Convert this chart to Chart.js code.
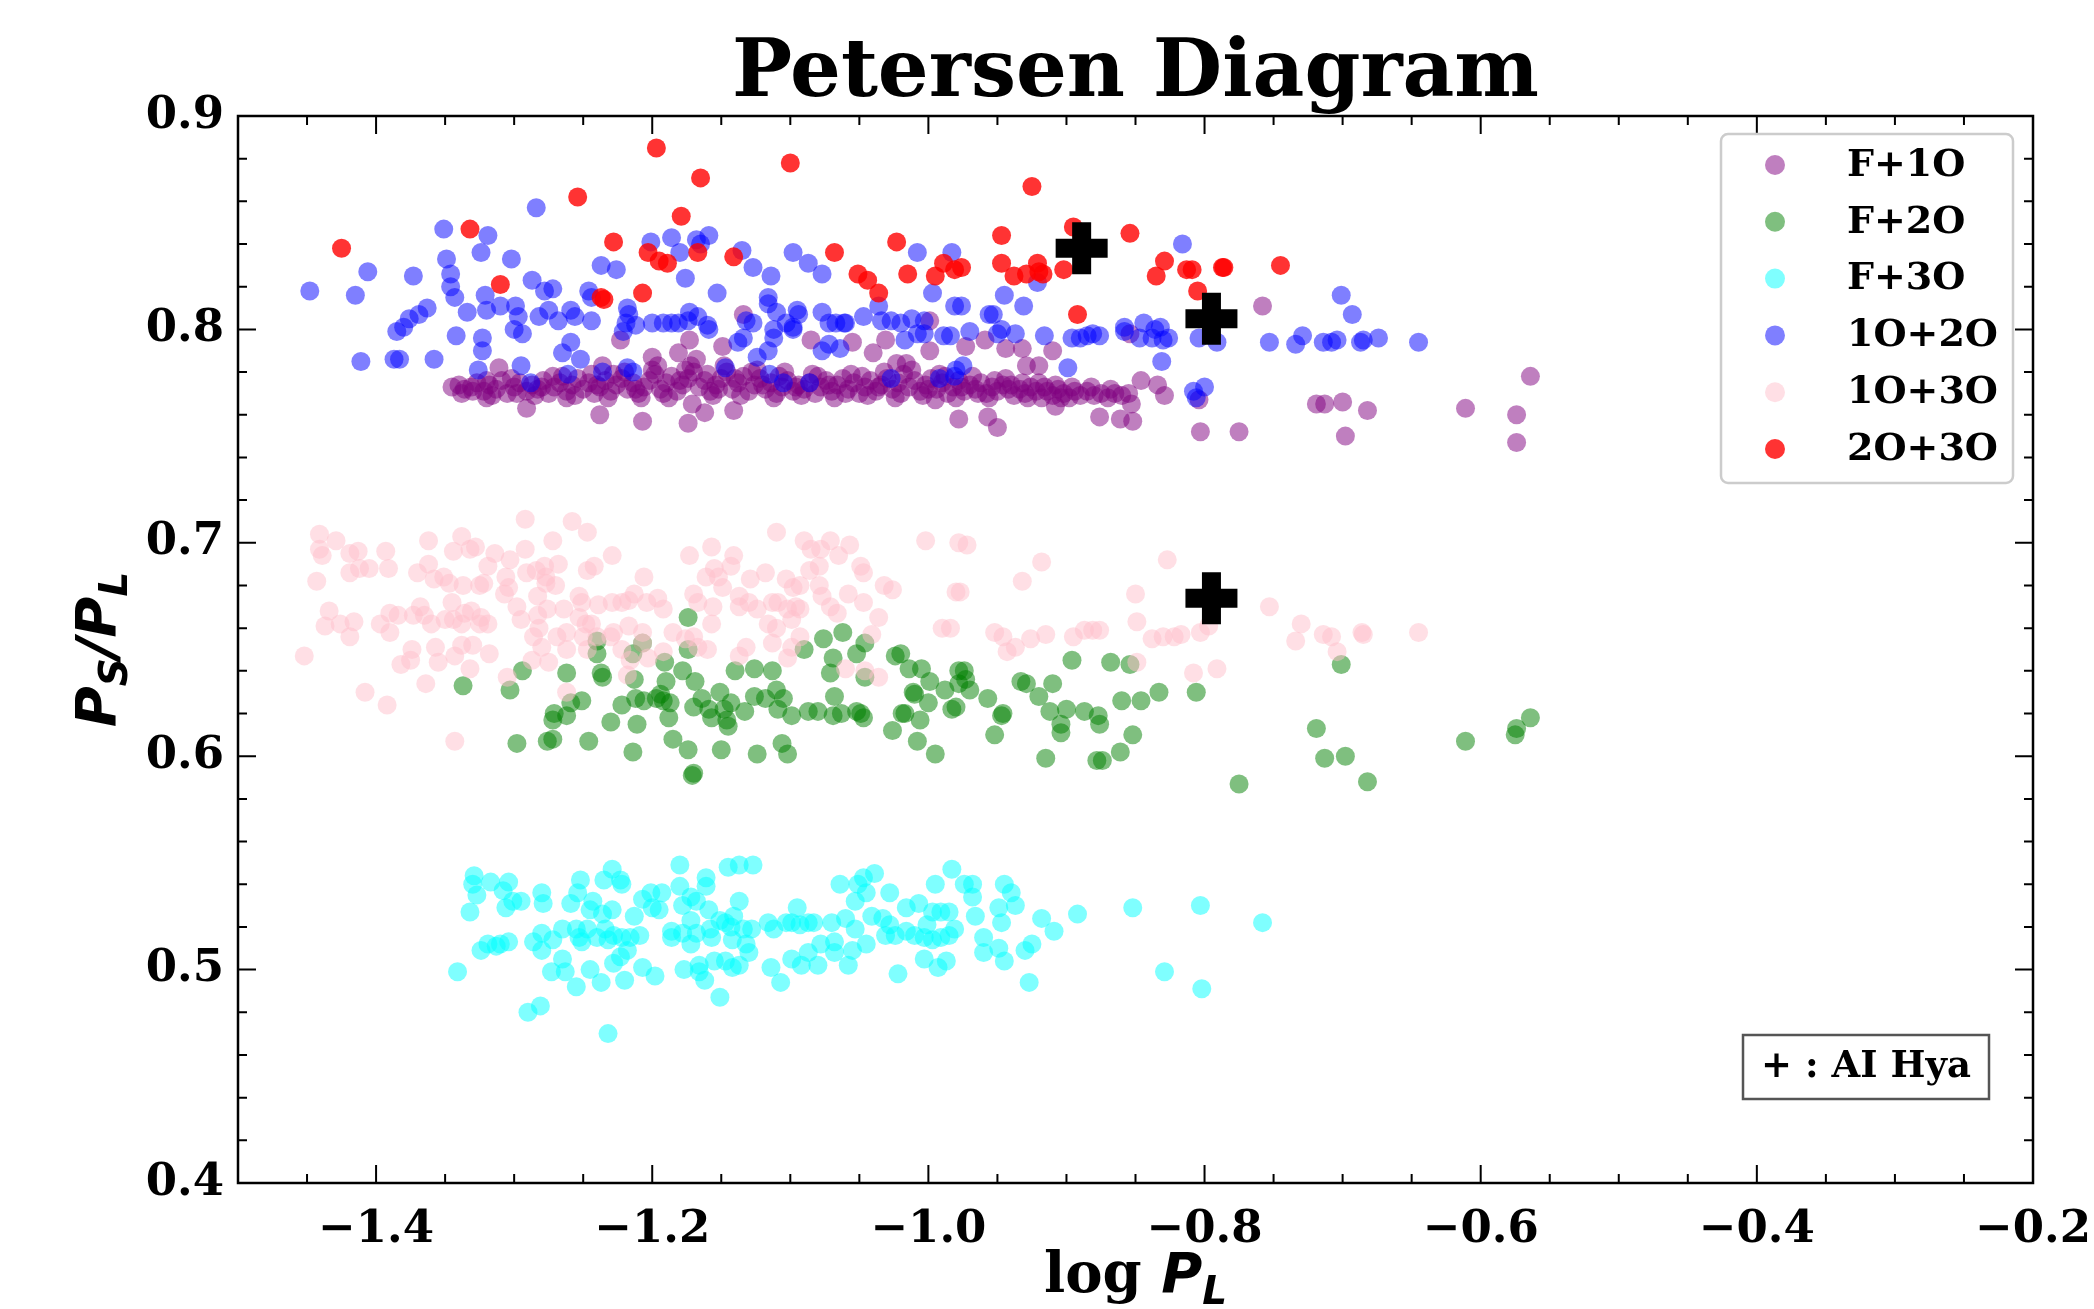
<!DOCTYPE html>
<html><head><meta charset="utf-8">
<script src="https://cdn.jsdelivr.net/npm/chart.js@4.4.0/dist/chart.umd.min.js"></script>
<style>html,body{margin:0;padding:0;background:#fff}canvas{display:block}</style>
</head><body>
<canvas id="c" width="2094" height="1309" style="width:2094px;height:1309px"></canvas>
<script>
// ---------------- DATA ----------------
const seriesNames = ['F+1O','F+2O','F+3O','1O+2O','1O+3O','2O+3O'];
const xTickValues = [-1.4,-1.2,-1.0,-0.8,-0.6,-0.4,-0.2];
const yTickValues = [0.4,0.5,0.6,0.7,0.8,0.9];

const f1o = [
[-1.345,.773],[-1.340,.774],[-1.336,.772],[-1.331,.773],[-1.327,.775],[-1.322,.771],[-1.318,.774],[-1.313,.772],[-1.309,.776],[-1.305,.770],
[-1.300,.773],[-1.296,.775],[-1.291,.771],[-1.287,.774],[-1.283,.772],[-1.279,.776],[-1.275,.770],[-1.271,.773],[-1.267,.775],[-1.262,.771],
[-1.258,.774],[-1.254,.777],[-1.250,.772],[-1.246,.775],[-1.242,.770],[-1.238,.773],[-1.234,.776],[-1.230,.771],[-1.226,.774],[-1.222,.777],
[-1.218,.772],[-1.214,.775],[-1.210,.770],[-1.206,.773],[-1.202,.776],[-1.198,.779],[-1.194,.772],[-1.190,.775],[-1.186,.778],[-1.182,.771],
[-1.178,.774],[-1.174,.777],[-1.170,.780],[-1.166,.773],[-1.162,.776],[-1.158,.771],[-1.154,.774],[-1.150,.777],[-1.146,.780],[-1.142,.772],
[-1.138,.775],[-1.134,.778],[-1.130,.771],[-1.126,.774],[-1.122,.777],[-1.118,.772],[-1.114,.775],[-1.110,.770],[-1.106,.773],[-1.102,.776],
[-1.098,.771],[-1.094,.774],[-1.090,.772],[-1.086,.775],[-1.082,.770],[-1.078,.773],[-1.074,.776],[-1.070,.771],[-1.066,.774],[-1.062,.777],
[-1.058,.772],[-1.054,.775],[-1.050,.770],[-1.046,.773],[-1.042,.776],[-1.038,.771],[-1.034,.774],[-1.030,.777],[-1.026,.772],[-1.022,.775],
[-1.018,.779],[-1.014,.773],[-1.010,.776],[-1.006,.771],[-1.002,.774],[-0.998,.777],[-0.994,.772],[-0.990,.775],[-0.986,.770],[-0.982,.773],
[-0.978,.776],[-0.974,.771],[-0.970,.774],[-0.966,.772],[-0.962,.775],[-0.958,.770],[-0.954,.773],[-0.950,.771],[-0.946,.774],[-0.942,.772],
[-0.938,.769],[-0.934,.772],[-0.930,.770],[-0.926,.773],[-0.922,.771],[-0.918,.768],[-0.914,.771],[-0.910,.769],[-0.906,.772],[-0.902,.770],
[-0.898,.768],[-0.894,.771],[-0.890,.769],[-0.885,.771],[-0.880,.769],[-0.875,.770],[-0.870,.768],[-0.865,.770],[-0.860,.769],[-0.855,.770],
[-1.330,.771],[-1.320,.776],[-1.298,.770],[-1.280,.773],[-1.265,.778],[-1.240,.774],[-1.228,.779],[-1.212,.772],[-1.200,.781],[-1.192,.770],
[-1.180,.776],[-1.172,.783],[-1.160,.779],[-1.152,.772],[-1.140,.777],[-1.128,.780],[-1.120,.774],[-1.108,.778],[-1.096,.773],[-1.084,.779],
[-1.072,.774],[-1.060,.770],[-1.048,.778],[-1.036,.773],[-1.020,.770],[-1.012,.781],[-1.000,.772],[-0.988,.778],[-0.976,.773],[-0.964,.770],
[-0.952,.776],[-0.940,.774],[-0.928,.768],[-0.916,.773],[-0.904,.768],
[-1.338,.770],[-1.316,.769],[-1.302,.777],[-1.285,.769],[-1.272,.778],[-1.256,.769],[-1.244,.779],[-1.232,.768],[-1.220,.780],[-1.208,.768],
[-1.196,.783],[-1.188,.768],[-1.176,.781],[-1.168,.786],[-1.156,.769],[-1.148,.783],[-1.136,.769],[-1.124,.781],[-1.112,.768],[-1.104,.780],
[-1.092,.769],[-1.080,.778],[-1.068,.768],[-1.056,.779],[-1.044,.769],[-1.032,.780],[-1.024,.768],[-1.016,.784],[-1.004,.769],[-0.992,.779],
[-0.980,.768],[-0.968,.778],[-0.956,.768],[-0.944,.777],[-0.932,.775],[-0.920,.775],[-0.908,.774],[-0.896,.773],[-0.882,.773],[-0.868,.772],
[-1.311,.782],[-1.236,.783],[-1.200,.787],[-1.181,.789],[-1.173,.795],[-1.149,.792],[-1.134,.807],[-1.223,.795],[-1.085,.795],[-1.055,.794],
[-1.040,.789],[-1.031,.795],[-1.023,.784],[-0.999,.804],[-0.999,.790],[-0.973,.792],[-0.959,.795],[-0.944,.791],[-0.932,.791],[-0.929,.783],
[-0.920,.783],[-0.910,.790],[-0.854,.798],
[-1.320,.768],[-1.291,.763],[-1.262,.768],[-1.238,.760],[-1.207,.757],[-1.174,.756],[-1.171,.765],[-1.162,.761],[-1.141,.762],[-0.995,.767],
[-0.978,.758],[-0.957,.759],[-0.950,.754],[-0.908,.764],[-0.876,.759],[-0.861,.758],[-0.852,.757],[-0.853,.765],[-0.846,.776],[-0.834,.774],
[-0.829,.769],[-0.804,.767],[-0.803,.752],[-0.775,.752],[-0.758,.811],[-0.719,.765],[-0.713,.765],[-0.700,.766],[-0.682,.762],[-0.698,.750],
[-0.611,.763],[-0.574,.760],[-0.574,.747],[-0.564,.778]
];

const f2o = [
[-1.337,.633],[-1.303,.631],[-1.294,.640],[-1.298,.606],[-1.276,.607],[-1.272,.608],[-1.271,.620],[-1.272,.617],[-1.262,.619],[-1.251,.626],
[-1.259,.625],[-1.262,.639],[-1.246,.607],[-1.240,.648],[-1.240,.654],[-1.237,.639],[-1.236,.637],[-1.230,.616],[-1.222,.624],[-1.214,.602],
[-1.214,.648],[-1.207,.653],[-1.213,.636],[-1.211,.615],[-1.212,.627],[-1.206,.626],[-1.197,.627],[-1.192,.626],[-1.187,.625],[-1.194,.629],
[-1.191,.644],[-1.190,.635],[-1.188,.618],[-1.185,.608],[-1.174,.665],[-1.174,.650],[-1.178,.640],[-1.169,.635],[-1.171,.591],[-1.170,.592],
[-1.174,.603],[-1.170,.623],[-1.164,.627],[-1.159,.622],[-1.157,.618],[-1.151,.630],[-1.148,.622],[-1.145,.614],[-1.143,.625],[-1.146,.617],
[-1.150,.603],[-1.140,.640],[-1.133,.621],[-1.126,.641],[-1.126,.628],[-1.124,.601],[-1.118,.627],[-1.113,.640],[-1.110,.631],[-1.109,.622],
[-1.105,.627],[-1.099,.619],[-1.106,.606],[-1.102,.601],[-1.090,.650],[-1.087,.621],[-1.080,.621],[-1.076,.655],[-1.071,.639],[-1.069,.646],
[-1.068,.628],[-1.069,.619],[-1.063,.620],[-1.062,.658],[-1.052,.621],[-1.049,.620],[-1.047,.618],[-1.052,.648],[-1.046,.653],[-1.046,.637],
[-1.026,.612],[-1.024,.647],[-1.020,.648],[-1.014,.641],[-1.005,.641],[-1.019,.620],[-1.017,.620],[-1.011,.630],[-1.010,.629],[-1.000,.625],
[-1.006,.617],[-1.008,.607],[-0.995,.601],[-0.999,.635],[-0.988,.631],[-0.983,.622],[-0.978,.640],[-0.978,.634],
[-0.974,.640],[-0.973,.636],[-0.970,.631],[-0.980,.623],[-0.957,.627],[-0.947,.619],[-0.946,.620],[-0.952,.610],[-0.933,.635],[-0.929,.634],
[-0.920,.628],[-0.910,.634],[-0.896,.645],[-0.912,.621],[-0.900,.622],[-0.887,.621],[-0.877,.619],[-0.876,.615],[-0.904,.615],[-0.904,.611],
[-0.915,.599],[-0.878,.598],[-0.874,.598],[-0.861,.602],[-0.852,.610],[-0.868,.644],[-0.854,.643],[-0.860,.626],[-0.846,.626],[-0.833,.630],
[-0.806,.630],[-0.775,.587],[-0.719,.613],[-0.713,.599],[-0.698,.600],[-0.682,.588],[-0.701,.643],[-0.611,.607],[-0.575,.610],[-0.574,.613],
[-0.564,.618]
];

const f3o = [
[-1.329,.544],[-1.330,.540],[-1.327,.535],[-1.317,.541],[-1.304,.541],[-1.308,.537],[-1.301,.532],[-1.295,.532],[-1.306,.529],[-1.332,.527],
[-1.341,.499],[-1.324,.509],[-1.319,.512],[-1.313,.511],[-1.310,.512],[-1.304,.513],[-1.290,.480],[-1.281,.483],
[-1.286,.513],[-1.280,.517],[-1.280,.509],[-1.272,.514],[-1.265,.519],[-1.255,.519],[-1.253,.515],[-1.251,.513],
[-1.280,.536],[-1.279,.531],[-1.259,.531],[-1.254,.536],[-1.243,.532],[-1.245,.528],[-1.252,.542],
[-1.265,.505],[-1.273,.499],[-1.263,.499],[-1.255,.492],[-1.245,.500],[-1.237,.494],[-1.232,.470],
[-1.229,.547],[-1.235,.542],[-1.223,.542],[-1.222,.540],[-1.229,.528],[-1.236,.526],
[-1.247,.519],[-1.240,.515],[-1.234,.519],[-1.228,.516],[-1.222,.515],[-1.216,.515],[-1.209,.516],[-1.232,.514],[-1.218,.509],[-1.220,.495],
[-1.228,.503],[-1.223,.506],[-1.213,.525],[-1.207,.533],[-1.201,.536],[-1.200,.529],[-1.193,.536],[-1.195,.528],[-1.207,.501],[-1.198,.497],
[-1.180,.549],[-1.180,.539],[-1.178,.530],[-1.172,.534],[-1.168,.532],[-1.161,.543],[-1.161,.539],[-1.159,.528],
[-1.186,.518],[-1.186,.515],[-1.178,.517],[-1.172,.523],[-1.172,.512],[-1.168,.517],[-1.158,.519],[-1.157,.515],[-1.177,.500],[-1.166,.502],
[-1.166,.499],[-1.162,.495],[-1.155,.504],[-1.151,.487],
[-1.151,.523],[-1.147,.522],[-1.143,.520],[-1.141,.525],[-1.134,.519],[-1.128,.519],[-1.137,.532],[-1.142,.514],[-1.132,.512],[-1.130,.508],
[-1.147,.504],[-1.142,.501],[-1.137,.502],[-1.145,.548],[-1.137,.549],[-1.127,.549],[-1.114,.501],[-1.107,.494],
[-1.116,.522],[-1.112,.519],[-1.103,.522],[-1.099,.522],[-1.093,.521],[-1.087,.522],[-1.083,.522],[-1.095,.529],
[-1.078,.512],[-1.068,.513],[-1.070,.522],[-1.060,.524],[-1.053,.519],[-1.053,.532],[-1.051,.540],[-1.045,.536],[-1.039,.545],[-1.064,.540],
[-1.047,.543],[-1.099,.505],[-1.092,.502],[-1.080,.502],[-1.087,.508],[-1.068,.508],[-1.055,.509],[-1.058,.502],[-1.045,.512],
[-1.041,.525],[-1.033,.524],[-1.028,.521],[-1.031,.516],[-1.024,.516],[-1.016,.518],[-1.016,.529],[-1.007,.531],[-1.001,.521],[-0.997,.527],
[-0.991,.527],[-0.985,.527],[-1.028,.536],[-0.995,.540],[-0.983,.547],[-0.974,.540],[-0.968,.540],[-0.968,.534],
[-1.022,.498],[-1.003,.505],[-0.993,.501],[-0.987,.504],[-1.010,.516],[-1.003,.515],[-0.997,.514],[-0.991,.515],[-0.985,.516],[-0.981,.519],
[-0.966,.525],[-0.960,.515],[-0.960,.508],[-0.947,.522],[-0.949,.529],[-0.945,.540],[-0.940,.536],[-0.937,.530],[-0.949,.510],[-0.945,.504],
[-0.930,.509],[-0.925,.512],[-0.927,.494],[-0.918,.524],[-0.909,.518],[-0.892,.526],[-0.852,.529],[-0.829,.499],[-0.803,.530],[-0.802,.491],
[-0.758,.522]
];

const o1o2 = [
[-1.448,.818],[-1.415,.816],[-1.406,.827],[-1.373,.825],[-1.351,.847],[-1.324,.836],[-1.319,.844],[-1.284,.857],[-1.349,.833],[-1.346,.826],
[-1.346,.820],[-1.343,.815],[-1.302,.833],[-1.321,.816],[-1.334,.808],[-1.363,.810],[-1.369,.807],[-1.376,.805],[-1.380,.801],[-1.385,.799],
[-1.411,.785],[-1.387,.786],[-1.383,.786],[-1.358,.786],[-1.342,.797],[-1.323,.796],[-1.323,.790],[-1.326,.781],[-1.320,.809],[-1.310,.811],
[-1.299,.811],[-1.297,.806],[-1.300,.800],[-1.294,.798],[-1.295,.783],[-1.288,.775],[-1.287,.823],[-1.278,.818],[-1.272,.819],[-1.282,.806],
[-1.275,.809],[-1.268,.804],[-1.259,.809],[-1.256,.806],[-1.246,.818],[-1.244,.815],[-1.244,.804],[-1.265,.789],[-1.259,.794],[-1.252,.786],
[-1.261,.779],[-1.237,.830],[-1.226,.828],[-1.236,.780],[-1.218,.810],[-1.217,.807],[-1.219,.803],[-1.221,.799],[-1.212,.802],[-1.218,.782],
[-1.214,.780],[-1.201,.841],[-1.186,.843],[-1.180,.836],[-1.176,.824],[-1.168,.842],[-1.159,.844],[-1.165,.840],
[-1.200,.803],[-1.192,.803],[-1.186,.803],[-1.181,.803],[-1.174,.804],[-1.173,.808],[-1.167,.806],[-1.160,.802],[-1.159,.800],
[-1.153,.817],[-1.135,.837],[-1.127,.829],[-1.114,.825],[-1.116,.815],[-1.116,.812],[-1.132,.804],[-1.127,.803],
[-1.138,.794],[-1.134,.796],[-1.124,.787],[-1.116,.790],[-1.112,.796],[-1.112,.800],[-1.147,.782],[-1.115,.779],[-1.105,.775],
[-1.110,.808],[-1.103,.803],[-1.098,.801],[-1.095,.809],[-1.094,.807],[-1.098,.800],[-1.098,.836],[-1.087,.831],[-1.077,.826],
[-1.077,.808],[-1.072,.803],[-1.067,.803],[-1.061,.803],[-1.060,.803],[-1.077,.790],[-1.072,.793],[-1.064,.791],[-1.086,.775],
[-1.047,.806],[-1.036,.811],[-1.034,.804],[-1.027,.804],[-1.020,.803],[-1.012,.805],[-1.003,.804],[-1.017,.795],[-1.008,.798],
[-1.027,.777],[-1.008,.836],[-0.997,.817],[-0.981,.811],[-0.983,.836],[-1.003,.798],[-0.989,.797],[-0.992,.777],[-0.980,.781],
[-0.976,.811],[-0.945,.816],[-0.931,.811],[-0.956,.807],[-0.953,.807],[-0.970,.799],[-0.950,.798],[-0.947,.800],[-0.937,.798],[-0.984,.797],
[-0.921,.822],[-0.916,.797],[-0.975,.783],[-0.981,.778],[-0.899,.782],[-0.896,.796],[-0.890,.796],[-0.885,.797],[-0.881,.798],[-0.876,.797],
[-0.858,.801],[-0.858,.799],[-0.847,.796],[-0.844,.803],[-0.838,.796],[-0.836,.800],[-0.832,.801],[-0.830,.795],[-0.826,.796],
[-0.816,.840],[-0.831,.785],[-0.808,.771],[-0.800,.773],[-0.806,.768],[-0.804,.796],[-0.791,.794],[-0.753,.794],[-0.734,.793],[-0.729,.797],
[-0.714,.794],[-0.708,.794],[-0.704,.795],[-0.687,.794],[-0.685,.795],[-0.674,.796],[-0.645,.794],[-0.701,.816],[-0.693,.807]
];

const o1o3 = [
[-1.441,.704],[-1.441,.697],[-1.439,.694],[-1.429,.701],[-1.443,.682],[-1.419,.695],[-1.413,.696],[-1.419,.686],[-1.412,.688],[-1.405,.688],
[-1.393,.696],[-1.391,.688],[-1.434,.668],[-1.437,.661],[-1.426,.662],[-1.416,.663],[-1.419,.656],[-1.452,.647],[-1.397,.662],[-1.390,.667],
[-1.390,.658],[-1.384,.666],[-1.382,.643],[-1.374,.650],[-1.375,.645],[-1.370,.686],[-1.362,.701],[-1.362,.690],[-1.368,.670],[-1.373,.666],
[-1.365,.666],[-1.360,.662],[-1.358,.683],[-1.351,.684],[-1.347,.681],[-1.344,.696],[-1.338,.703],[-1.332,.697],[-1.328,.698],[-1.345,.672],
[-1.350,.664],[-1.344,.664],[-1.338,.662],[-1.336,.667],[-1.331,.668],[-1.324,.665],[-1.325,.662],[-1.319,.662],[-1.357,.651],[-1.355,.644],
[-1.343,.647],[-1.338,.652],[-1.330,.652],[-1.332,.641],[-1.318,.648],[-1.364,.634],[-1.408,.630],[-1.392,.624],[-1.343,.607],[-1.337,.680],
[-1.325,.680],[-1.322,.681],[-1.319,.689],[-1.314,.695],[-1.303,.692],[-1.306,.684],[-1.304,.679],[-1.307,.676],[-1.298,.670],[-1.295,.664],
[-1.292,.697],[-1.292,.711],[-1.291,.686],[-1.284,.687],[-1.278,.689],[-1.277,.684],[-1.272,.701],[-1.268,.690],[-1.277,.681],[-1.270,.680],
[-1.283,.675],[-1.276,.669],[-1.283,.666],[-1.282,.660],[-1.286,.656],[-1.280,.651],[-1.275,.644],[-1.287,.645],[-1.269,.656],[-1.262,.658],
[-1.262,.650],[-1.258,.710],[-1.247,.705],[-1.247,.687],[-1.242,.689],[-1.229,.694],[-1.253,.675],[-1.251,.672],[-1.264,.669],[-1.253,.665],
[-1.248,.662],[-1.244,.662],[-1.250,.656],[-1.247,.650],[-1.239,.671],[-1.229,.672],[-1.222,.672],[-1.217,.673],[-1.213,.676],[-1.204,.672],
[-1.196,.674],[-1.192,.669],[-1.206,.684],[-1.228,.658],[-1.217,.661],[-1.207,.658],[-1.222,.650],[-1.216,.645],[-1.218,.638],[-1.203,.646],
[-1.192,.649],[-1.185,.658],[-1.173,.694],[-1.170,.676],[-1.167,.672],[-1.157,.698],[-1.161,.684],[-1.155,.688],[-1.152,.684],[-1.143,.689],
[-1.141,.694],[-1.149,.679],[-1.156,.670],[-1.157,.662],[-1.176,.655],[-1.170,.656],[-1.167,.651],[-1.160,.650],[-1.137,.675],[-1.130,.672],
[-1.124,.669],[-1.137,.670],[-1.129,.683],[-1.118,.686],[-1.110,.705],[-1.103,.683],[-1.098,.679],[-1.093,.680],[-1.113,.672],[-1.109,.672],
[-1.116,.662],[-1.110,.660],[-1.113,.653],[-1.102,.669],[-1.096,.670],[-1.093,.669],[-1.099,.664],[-1.090,.701],[-1.085,.697],[-1.078,.697],
[-1.071,.701],[-1.065,.694],[-1.057,.699],[-1.086,.687],[-1.079,.689],[-1.079,.680],[-1.077,.675],[-1.071,.670],[-1.066,.667],[-1.058,.676],
[-1.047,.672],[-1.049,.689],[-1.047,.686],[-1.032,.680],[-1.026,.678],[-1.036,.665],[-1.041,.657],[-1.093,.656],[-1.102,.646],[-1.099,.651],
[-1.132,.651],[-1.137,.647],[-1.060,.641],[-1.046,.640],[-1.036,.637],[-1.002,.701],[-0.990,.660],[-0.980,.677],[-0.978,.700],[-1.262,.630],
[-1.305,.637],[-1.240,.656],[-1.230,.656],[-1.207,.653],
[-0.972,.699],[-0.918,.691],[-0.932,.682],[-0.977,.677],[-0.827,.692],[-0.850,.676],[-0.849,.663],[-0.984,.660],[-0.952,.658],[-0.946,.656],
[-0.937,.651],[-0.943,.649],[-0.926,.655],[-0.915,.657],[-0.895,.656],[-0.887,.659],[-0.881,.659],[-0.876,.659],[-0.838,.655],[-0.830,.656],
[-0.822,.656],[-0.817,.657],[-0.803,.658],[-0.797,.661],[-0.849,.644],[-0.808,.639],[-0.791,.641],[-0.753,.670],[-0.730,.662],[-0.734,.654],
[-0.714,.657],[-0.708,.656],[-0.704,.649],[-0.686,.658],[-0.685,.657],[-0.645,.658]
];

const o2o3 = [
[-1.425,.838],[-1.332,.847],[-1.310,.821],[-1.254,.862],[-1.228,.841],[-1.237,.815],[-1.235,.814],[-1.207,.817],[-1.203,.836],[-1.195,.832],
[-1.189,.831],[-1.197,.885],[-1.179,.853],[-1.165,.871],[-1.167,.836],[-1.141,.834],[-1.100,.878],[-1.068,.836],[-1.051,.826],[-1.044,.823],
[-1.036,.817],[-1.023,.841],[-1.015,.826],[-0.995,.825],[-0.989,.831],[-0.981,.828],[-0.976,.829],[-0.947,.844],[-0.947,.831],[-0.938,.825],
[-0.929,.826],[-0.921,.831],[-0.920,.827],[-0.917,.826],[-0.925,.867],[-0.902,.828],[-0.895,.848],[-0.892,.807],[-0.854,.845],[-0.835,.825],
[-0.829,.832],[-0.813,.828],[-0.809,.828],[-0.805,.818],[-0.787,.829],[-0.786,.829],[-0.745,.830]
];

const aiHya = [[-0.889,.838],[-0.795,.805],[-0.795,.674]];

const seriesData = [f1o, f2o, f3o, o1o2, o1o3, o2o3];
const seriesColors = ['rgba(128,0,128,0.5)','rgba(0,128,0,0.5)','rgba(0,255,255,0.5)','rgba(0,0,255,0.5)','rgba(255,192,203,0.5)','rgba(255,0,0,0.8)'];

// ---------------- CHART ----------------
const SERIF = '"DejaVu Serif", serif';
const SANS = '"DejaVu Sans", sans-serif';

const datasets = seriesData.map((d, i) => ({
  label: seriesNames[i],
  data: d.map(p => ({x: p[0], y: p[1]})),
  backgroundColor: seriesColors[i],
  borderWidth: 0,
  pointRadius: 9.5,
  pointHoverRadius: 9.5,
  order: 10 - i
}));
datasets.push({
  label: 'AI Hya',
  data: aiHya.map(p => ({x: p[0], y: p[1]})),
  pointStyle: 'cross',
  pointRadius: 26,
  pointHoverRadius: 26,
  borderColor: '#000',
  borderWidth: 19,
  backgroundColor: '#000',
  order: 1
});

function drawRuns(ctx, runs, cx, cy) {
  let total = 0;
  runs.forEach(r => { ctx.font = r.font; r.w = ctx.measureText(r.t).width; total += r.w; });
  let x = cx - total / 2;
  runs.forEach(r => { ctx.font = r.font; ctx.fillText(r.t, x, cy + (r.dy || 0)); x += r.w; });
}

const decor = {
  id: 'decor',
  afterDraw(chart) {
    const {ctx, chartArea: a, scales: {x, y}} = chart;
    ctx.save();
    ctx.fillStyle = '#000';
    ctx.strokeStyle = '#000';
    // ticks (inward, all four sides)
    ctx.lineWidth = 2;
    const tickX = (v, len) => {
      const px = x.getPixelForValue(v);
      ctx.beginPath();
      ctx.moveTo(px, a.bottom); ctx.lineTo(px, a.bottom - len);
      ctx.moveTo(px, a.top); ctx.lineTo(px, a.top + len);
      ctx.stroke();
    };
    const tickY = (v, len) => {
      const py = y.getPixelForValue(v);
      ctx.beginPath();
      ctx.moveTo(a.left, py); ctx.lineTo(a.left + len, py);
      ctx.moveTo(a.right, py); ctx.lineTo(a.right - len, py);
      ctx.stroke();
    };
    for (let k = -30; k <= -4; k++) { const v = k * 0.05; if (k % 4 !== 0) tickX(v, 9); }
    xTickValues.forEach(v => tickX(v, 18));
    for (let k = 20; k <= 45; k++) { const v = k * 0.02; if (k % 5 !== 0) tickY(v, 9); }
    yTickValues.forEach(v => tickY(v, 18));
    // frame
    ctx.lineWidth = 2.5;
    ctx.strokeRect(a.left, a.top, a.right - a.left, a.bottom - a.top);

    // title
    ctx.textAlign = 'left';
    ctx.textBaseline = 'alphabetic';
    drawRuns(ctx, [{t: 'Petersen Diagram', font: 'bold 80px ' + SERIF}], (a.left + a.right) / 2, 96);

    // x axis title
    drawRuns(ctx, [
      {t: 'log ', font: 'bold 56px ' + SERIF},
      {t: 'P', font: 'italic bold 56px ' + SANS},
      {t: 'L', font: 'italic bold 39px ' + SANS, dy: 12}
    ], (a.left + a.right) / 2, 1292);

    // y axis title
    ctx.save();
    ctx.translate(115, (a.top + a.bottom) / 2);
    ctx.rotate(-Math.PI / 2);
    drawRuns(ctx, [
      {t: 'P', font: 'italic bold 56px ' + SANS},
      {t: 'S', font: 'italic bold 39px ' + SANS, dy: 12},
      {t: '/', font: 'italic bold 56px ' + SANS},
      {t: 'P', font: 'italic bold 56px ' + SANS},
      {t: 'L', font: 'italic bold 39px ' + SANS, dy: 12}
    ], 0, 0);
    ctx.restore();

    // legend
    const lx = 1721, ly = 134, lw = 292, lh = 349;
    ctx.beginPath();
    ctx.roundRect(lx, ly, lw, lh, 7);
    ctx.fillStyle = 'rgba(255,255,255,0.8)';
    ctx.fill();
    ctx.lineWidth = 2.5;
    ctx.strokeStyle = '#cccccc';
    ctx.stroke();
    ctx.textBaseline = 'middle';
    chart.data.datasets.slice(0, 6).forEach((ds, i) => {
      const cy = 165 + i * 56.8;
      ctx.beginPath();
      ctx.arc(1775, cy, 10, 0, Math.PI * 2);
      ctx.fillStyle = ds.backgroundColor;
      ctx.fill();
      ctx.fillStyle = '#000';
      ctx.font = 'bold 38px ' + SERIF;
      ctx.fillText(ds.label, 1847, cy + 1);
    });

    // AI Hya note box
    ctx.lineWidth = 2.5;
    ctx.strokeStyle = '#555555';
    ctx.fillStyle = '#fff';
    ctx.fillRect(1743, 1035, 246, 64);
    ctx.strokeRect(1743, 1035, 246, 64);
    ctx.fillStyle = '#000';
    ctx.textBaseline = 'middle';
    drawRuns(ctx, [{t: '+ : AI Hya', font: 'bold 37px ' + SERIF}], 1866, 1067);
    ctx.restore();
  }
};

const fmt = v => {
  const s = Number(v).toFixed(1);
  return s.replace('-', '\u2212');
};

new Chart(document.getElementById('c'), {
  type: 'scatter',
  data: {datasets},
  options: {
    responsive: false,
    animation: false,
    devicePixelRatio: 1,
    layout: {padding: {left: 0, top: 116, right: 61, bottom: 0}},
    plugins: {legend: {display: false}, title: {display: false}, tooltip: {enabled: false}},
    events: [],
    scales: {
      x: {
        type: 'linear', min: -1.5, max: -0.2,
        grid: {display: false, drawTicks: false},
        border: {display: false},
        afterBuildTicks: s => { s.ticks = xTickValues.map(v => ({value: v})); },
        afterFit: s => { s.height = 126; s.paddingLeft = 0; s.paddingRight = 0; },
        ticks: {color: '#000', padding: 20, maxRotation: 0, autoSkip: false,
          font: {family: SERIF, weight: 'bold', size: 45}, callback: fmt}
      },
      y: {
        type: 'linear', min: 0.4, max: 0.9,
        grid: {display: false, drawTicks: false},
        border: {display: false},
        afterBuildTicks: s => { s.ticks = yTickValues.map(v => ({value: v})); },
        afterFit: s => { s.width = 238; s.paddingTop = 0; s.paddingBottom = 0; },
        ticks: {color: '#000', padding: 14, autoSkip: false,
          font: {family: SERIF, weight: 'bold', size: 45}, callback: fmt}
      }
    }
  },
  plugins: [decor]
});
</script>
</body></html>
